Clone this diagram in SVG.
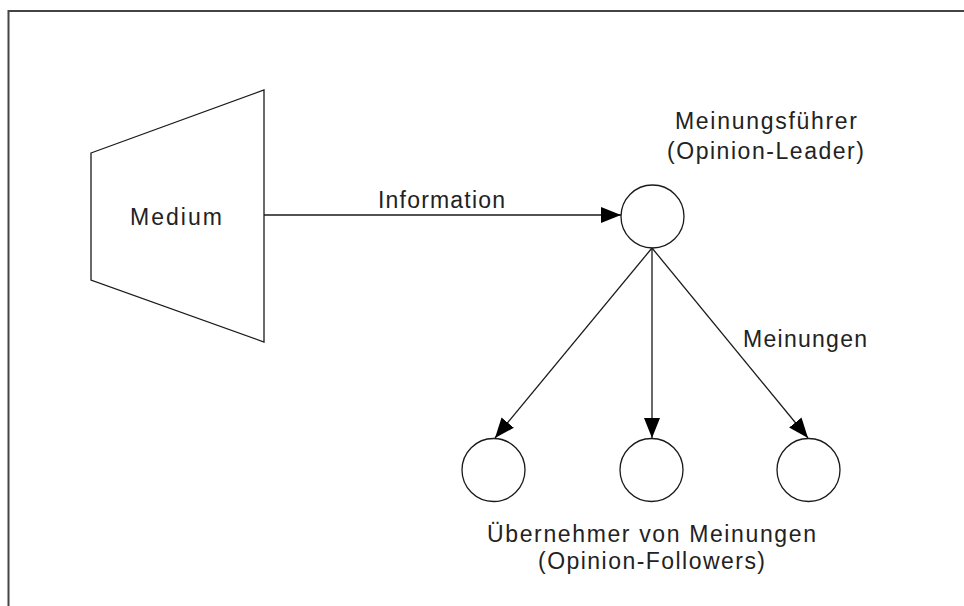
<svg xmlns="http://www.w3.org/2000/svg" width="964" height="606" viewBox="0 0 964 606">
<style>
.t{font-family:"Liberation Sans",Arial,sans-serif;font-size:23px;fill:#222}
.s{fill:#fff;stroke:#1a1a1a;stroke-width:1.3}
.c{stroke:#1a1a1a;stroke-width:1.3;fill:none}
</style>
<defs>
<marker id="ah" markerUnits="userSpaceOnUse" markerWidth="22" markerHeight="20" refX="20" refY="8" orient="auto">
<path d="M0,0 L20,8 L0,16 Z" fill="#000"/>
</marker>
</defs>
<rect width="964" height="606" fill="#fff"/>
<path d="M8.5,606 V11 H964" fill="none" stroke="#444" stroke-width="2"/>
<g id="medium">
<polygon class="s" points="91,153 264,90 264,342 91,280"/>
<text class="t" x="130" y="225" textLength="92" lengthAdjust="spacing">Medium</text>
</g>
<g id="leader">
<circle class="s" cx="652.5" cy="216.5" r="31.5"/>
<text class="t" x="675" y="129" textLength="182" lengthAdjust="spacing">Meinungsführer</text>
<text class="t" x="667" y="159" textLength="197" lengthAdjust="spacing">(Opinion-Leader)</text>
</g>
<g id="follower1"><circle class="s" cx="493.5" cy="470" r="31.5"/></g>
<g id="follower2"><circle class="s" cx="651.5" cy="470" r="31.5"/></g>
<g id="follower3"><circle class="s" cx="808.5" cy="470" r="31.5"/></g>
<g id="followers-label">
<text class="t" x="487" y="542" textLength="329" lengthAdjust="spacing">Übernehmer von Meinungen</text>
<text class="t" x="538" y="569" textLength="227" lengthAdjust="spacing">(Opinion-Followers)</text>
</g>
<g id="connectors">
<line class="c" x1="264" y1="215" x2="621" y2="215" marker-end="url(#ah)"/>
<line class="c" x1="652" y1="248" x2="495" y2="438" marker-end="url(#ah)"/>
<line class="c" x1="652" y1="248" x2="652" y2="438" marker-end="url(#ah)"/>
<line class="c" x1="652" y1="248" x2="808" y2="438" marker-end="url(#ah)"/>
<text class="t" x="378" y="208" textLength="127" lengthAdjust="spacing">Information</text>
<text class="t" x="743" y="347" textLength="124" lengthAdjust="spacing">Meinungen</text>
</g>
</svg>
